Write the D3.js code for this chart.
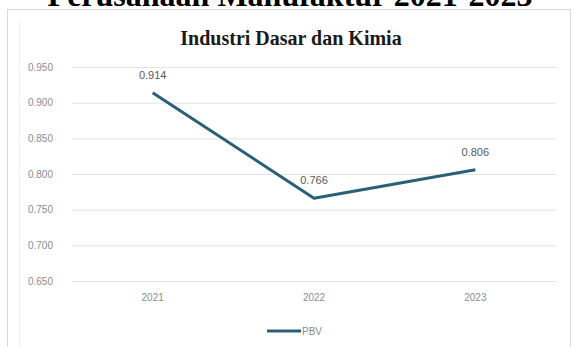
<!DOCTYPE html>
<html><head><meta charset="utf-8">
<script src="https://cdn.jsdelivr.net/npm/d3@7"></script>
<style>body{margin:0;background:#fff}svg{display:block}</style>
</head><body>
<svg id="c" width="574" height="347"></svg>
<script>
const categories = ["2021", "2022", "2023"];
const pbvValues = [0.914, 0.766, 0.806];
const valueLabels = ["0.914", "0.766", "0.806"];
const yTicks = [0.65, 0.70, 0.75, 0.80, 0.85, 0.90, 0.95];
const seriesName = "PBV";
const chartTitle = "Industri Dasar dan Kimia";
const docTitle = "Perusahaan Manufaktur 2021-2023";

(function () {
const svg = d3.select("#c");
const pL = 72, pR = 556, pT = 67, pB = 281;

// document heading (cut off at top)
svg.append("text").attr("x", 290).attr("y", 6).attr("text-anchor", "middle")
  .attr("font-family", "Liberation Serif").attr("font-weight", "bold").attr("font-size", 32)
  .attr("fill", "#000").text(docTitle);

// chart frame
svg.append("rect").attr("x", 7.5).attr("y", 9.5).attr("width", 563).attr("height", 345)
  .attr("fill", "#fff").attr("stroke", "#d9d9d9");
svg.append("line").attr("x1", 19.5).attr("x2", 19.5).attr("y1", 20).attr("y2", 347)
  .attr("stroke", "#f0f0f0");

svg.append("text").attr("x", 291).attr("y", 45).attr("text-anchor", "middle")
  .attr("font-family", "Liberation Serif").attr("font-weight", "bold").attr("font-size", 20)
  .attr("fill", "#1a1a1a").text(chartTitle);

const x = d3.scaleBand().domain(categories).range([pL, pR]);
const y = d3.scaleLinear().domain([0.65, 0.95]).range([pB, pT]);

const gy = svg.append("g").attr("transform", `translate(${pL},0)`)
  .call(d3.axisLeft(y).tickValues(yTicks).tickFormat(d3.format(".3f")).tickSize(-(pR - pL)).tickPadding(19));
gy.select(".domain").remove();
gy.selectAll(".tick line").attr("stroke", "#e3e3e3");
gy.selectAll(".tick text").attr("fill", "#8c8c8c").attr("font-family", "Liberation Sans").attr("font-size", 10);

const gx = svg.append("g").attr("transform", `translate(0,${pB})`)
  .call(d3.axisBottom(x).tickSize(0).tickPadding(13));
gx.select(".domain").attr("stroke", "#e3e3e3");
gx.selectAll(".tick text").attr("fill", "#8c8c8c").attr("font-family", "Liberation Sans").attr("font-size", 10);

const pts = categories.map((c, i) => [x(c) + x.bandwidth() / 2, y(pbvValues[i])]);
svg.append("path").attr("d", d3.line()(pts)).attr("fill", "none")
  .attr("stroke", "#2a5f78").attr("stroke-width", 3).attr("stroke-linejoin", "round");

svg.selectAll(".lbl").data(categories).enter().append("text")
  .attr("x", (c) => x(c) + x.bandwidth() / 2)
  .attr("y", (c, i) => y(pbvValues[i]) - 14)
  .attr("text-anchor", "middle").attr("fill", "#595959")
  .attr("font-family", "Liberation Sans").attr("font-size", 11)
  .text((c, i) => valueLabels[i]);

// legend
svg.append("line").attr("x1", 267).attr("x2", 301).attr("y1", 331).attr("y2", 331)
  .attr("stroke", "#2a5f78").attr("stroke-width", 3);
svg.append("text").attr("x", 302).attr("y", 335).attr("fill", "#8c8c8c")
  .attr("font-family", "Liberation Sans").attr("font-size", 10).text(seriesName);
})();
</script>
</body></html>
